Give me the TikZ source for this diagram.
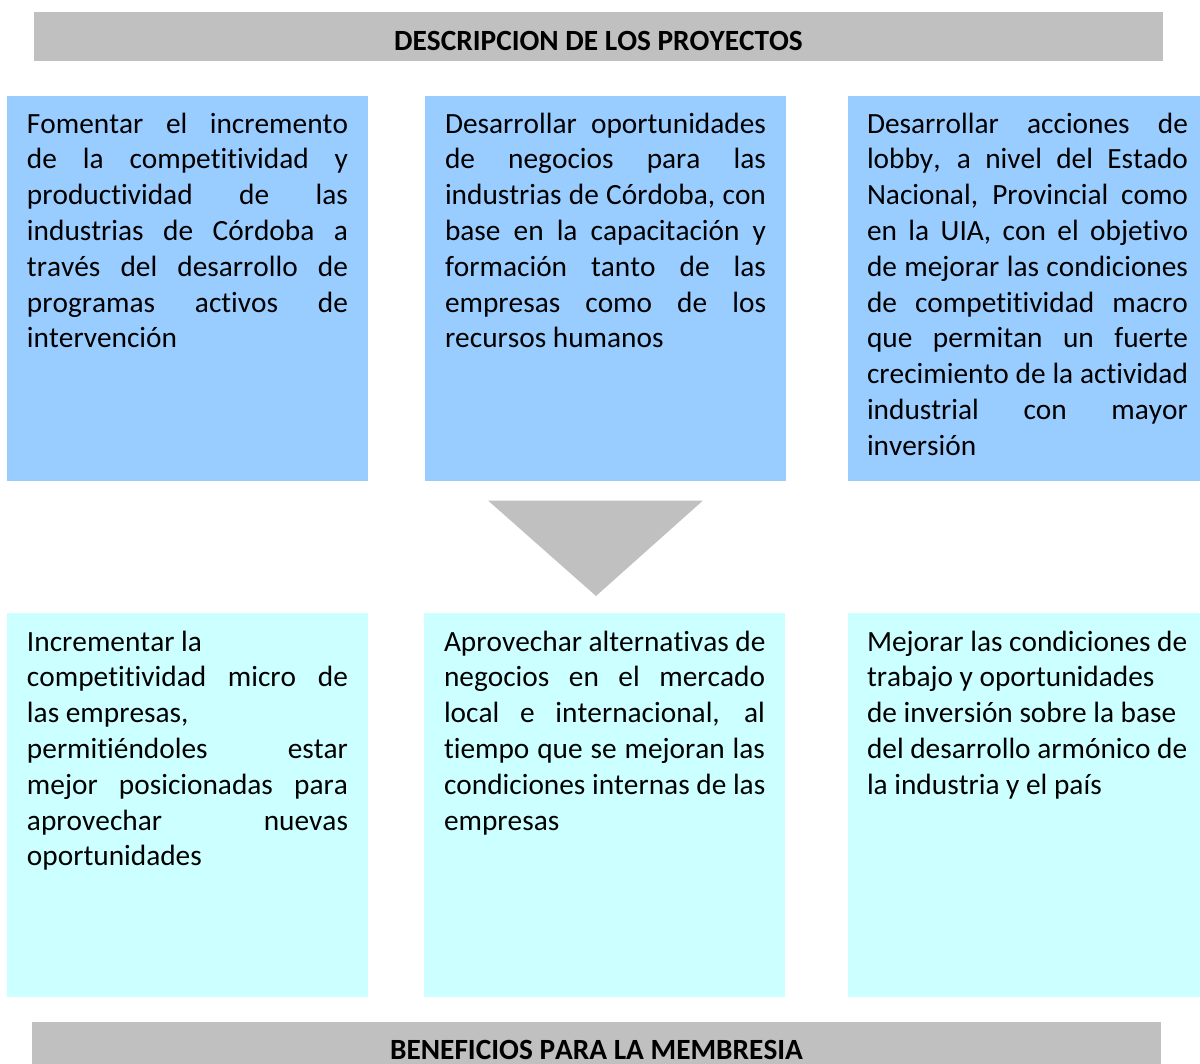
\documentclass[tikz,border=0pt]{standalone}
\usepackage{fontspec}
\setmainfont{Carlito}[Ligatures=NoCommon,Kerning=Off]
\newlength\colw
\setlength\colw{120.375pt}
\newcommand\JL[1]{\makebox[\colw][s]{\spaceskip=0.226em plus 1fil\relax\xspaceskip=\spaceskip #1}}
\newcommand\LL[1]{\makebox[\colw][l]{\spaceskip=0.226em\relax\xspaceskip=\spaceskip #1}}
\definecolor{barg}{HTML}{C0C0C0}
\definecolor{boxb}{HTML}{99CCFF}
\definecolor{boxc}{HTML}{CCFFFF}
\tikzset{
  txt/.style={anchor=base west, inner sep=0pt, outer sep=0pt, text width=\colw, align=left,
    font=\fontsize{11pt}{13.43pt}\selectfont},
  ttl/.style={anchor=base, inner sep=0pt, font=\fontsize{11pt}{13.43pt}\selectfont\bfseries}
}
\begin{document}
\begin{tikzpicture}[x=0.375pt,y=-0.375pt]
\useasboundingbox (0,0) rectangle (1200,1064);
% bars
\fill[barg] (34,12) rectangle (1163,61);
\fill[barg] (32,1022) rectangle (1161,1064);
% blue boxes
\fill[boxb] (7,96) rectangle (368,481);
\fill[boxb] (425,96) rectangle (786,481);
\fill[boxb] (848,96) rectangle (1200,481);
% cyan boxes
\fill[boxc] (7,613) rectangle (368,997);
\fill[boxc] (424,613) rectangle (785,997);
\fill[boxc] (848,613) rectangle (1200,997);
% triangle
\fill[barg] (488,500.5) -- (703,500.5) -- (596,596) -- cycle;
% titles
\node[ttl] (t1) at (598.5,50.5) {DESCRIPCION DE LOS PROYECTOS};
\node[ttl] (t2) at (596.5,1059) {BENEFICIOS PARA LA MEMBRESIA};
% top texts
\node[txt] (a1) at (27,133) {\JL{Fomentar el incremento}\\
\JL{de la competitividad y}\\
\JL{productividad de las}\\
\JL{industrias de Córdoba a}\\
\JL{través del desarrollo de}\\
\JL{programas activos de}\\
\LL{intervención}};
\node[txt] (a2) at (445,133) {\JL{Desarrollar oportunidades}\\
\JL{de negocios para las}\\
\JL{industrias de Córdoba, con}\\
\JL{base en la capacitación y}\\
\JL{formación tanto de las}\\
\JL{empresas como de los}\\
\LL{recursos humanos}};
\node[txt] (a3) at (867,133) {\JL{Desarrollar acciones de}\\
\JL{lobby, a nivel del Estado}\\
\JL{Nacional, Provincial como}\\
\JL{en la UIA, con el objetivo}\\
\JL{de mejorar las condiciones}\\
\JL{de competitividad macro}\\
\JL{que permitan un fuerte}\\
\JL{crecimiento de la actividad}\\
\JL{industrial con mayor}\\
\LL{inversión}};
% bottom texts
\node[txt] (b1) at (27,651) {\LL{Incrementar la}\\
\JL{competitividad micro de}\\
\LL{las empresas,}\\
\JL{permitiéndoles estar}\\
\JL{mejor posicionadas para}\\
\JL{aprovechar nuevas}\\
\LL{oportunidades}};
\node[txt] (b2) at (444,651) {\JL{Aprovechar alternativas de}\\
\JL{negocios en el mercado}\\
\JL{local e internacional, al}\\
\JL{tiempo que se mejoran las}\\
\JL{condiciones internas de las}\\
\LL{empresas}};
\node[txt] (b3) at (867,651) {\LL{Mejorar las condiciones de}\\
\LL{trabajo y oportunidades}\\
\LL{de inversión sobre la base}\\
\LL{del desarrollo armónico de}\\
\LL{la industria y el país}};
\end{tikzpicture}
\end{document}
